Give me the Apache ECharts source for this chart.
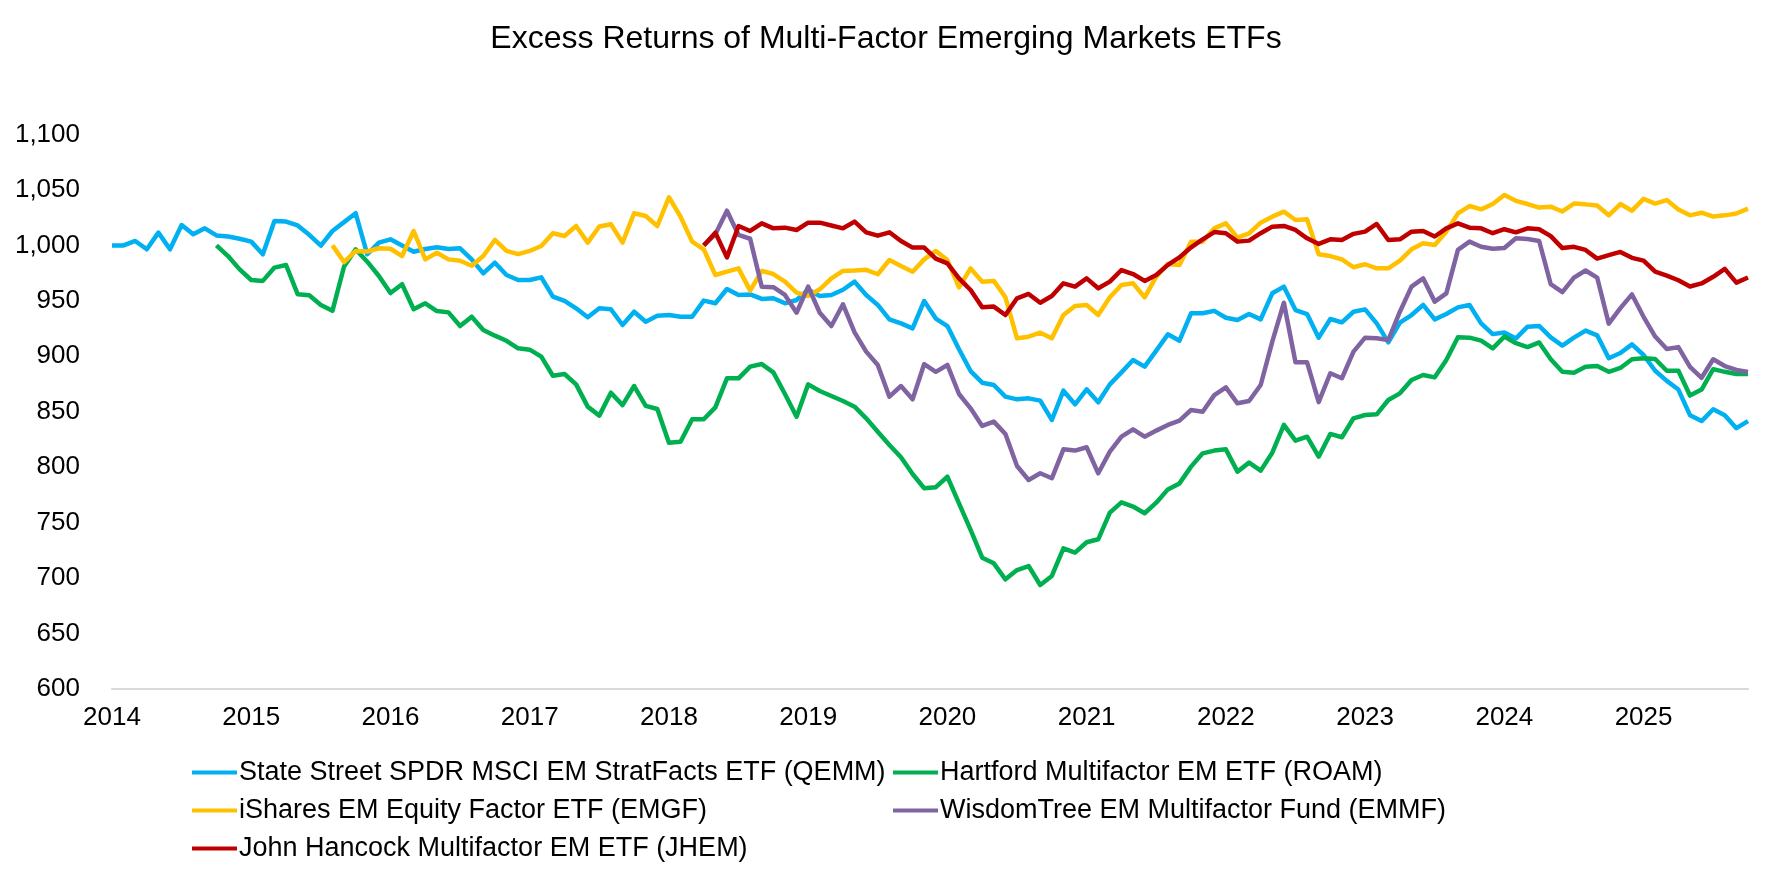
<!DOCTYPE html>
<html>
<head>
<meta charset="utf-8">
<script src="https://cdn.jsdelivr.net/npm/echarts@6/dist/echarts.min.js"></script>
<style>
html,body{margin:0;padding:0;background:#fff;}
#chart{width:1772px;height:886px;}
</style>
</head>
<body>
<div id="chart"></div>
<script>
// Monthly observations, Jan 2014 .. Oct 2025
var startYear = 2014, startMonth = 1, monthCount = 142;
var months = [];
for (var i = 0; i < monthCount; i++) {
  var y = startYear + Math.floor((startMonth - 1 + i) / 12);
  var m = ((startMonth - 1 + i) % 12) + 1;
  months.push(y + '-' + (m < 10 ? '0' + m : m));
}

var seriesNames = [
  'State Street SPDR MSCI EM StratFacts ETF (QEMM)',
  'Hartford Multifactor EM ETF (ROAM)',
  'iShares EM Equity Factor ETF (EMGF)',
  'WisdomTree EM Multifactor Fund (EMMF)',
  'John Hancock Multifactor EM ETF (JHEM)'
];

var qemm = [
  1000, 1000, 1004, 996.5, 1011.5, 996.5, 1018.4, 1010, 1015.4, 1009, 1008, 1006,
  1003.4, 992, 1022, 1021.5, 1018, 1009.5, 999.8, 1013, 1021, 1029, 992, 1002.5,
  1005.5, 1000, 994.3, 996.8, 998.3, 996.8, 997.4, 987.4, 974.8, 984.4, 973.3, 968.8,
  968.8, 971.2, 953.8, 949.9, 943.3, 935.2, 943.3, 942.4, 928.2, 940.2, 931.2, 936.6,
  937.2, 935.7, 935.7, 950.2, 947.8, 960.7, 955.3, 955.8, 951.7, 952.3, 947.8, 950.8,
  960, 954.4, 955.3, 960, 967.3, 955.3, 946.3, 933.3, 929.7, 925.2, 949.9, 934,
  927.3, 906.3, 886.7, 876.2, 874.1, 863.6, 861.2, 862.1, 860, 842.6, 869, 856.7,
  870.2, 858.5, 874.7, 885.5, 896.7, 890.7, 905.1, 919.8, 914.1, 938.8, 938.8, 941,
  934.8, 932.7, 938.1, 933.3, 956.8, 962.8, 941.7, 938.1, 916.8, 933.6, 930.6, 940.2,
  942.3, 929.7, 912.6, 930.3, 937.2, 946.3, 933.3, 938.1, 944.1, 946.3, 929.7, 920,
  921.4, 916.1, 926.7, 927.4, 917.1, 909.7, 916.8, 923.2, 918.9, 898.3, 903, 910.8,
  901.2, 887, 877.8, 870, 846.9, 841.6, 852.3, 846.9, 835.2, 841.6
];

var roam = [
  null, null, null, null, null, null, null, null, null, 1000, 990.4, 978.4,
  968.8, 968, 980, 982.3, 956, 955, 946.3, 941, 981, 996.5, 985.3, 972.4,
  957, 965, 942.4, 947.8, 940.8, 939.6, 927.3, 935.7, 923.7, 918.6, 914, 907.2,
  906, 899.7, 882.5, 884, 874.7, 854.6, 846.5, 867.2, 856, 873.2, 855.3, 852.5,
  822.1, 823, 843.2, 843.2, 854, 880.1, 880.1, 890.7, 893, 885.5, 866, 845.5,
  874.7, 868.7, 864.2, 859.7, 854.6, 844.1, 832, 820, 808.9, 793.9, 781, 782,
  791.4, 767.4, 743.4, 718.4, 713.3, 698.9, 707.3, 710.9, 693.8, 701.9, 726.9, 723,
  732.3, 735, 759, 768.3, 764.5, 758.5, 768, 780, 785.4, 800.5, 812.5, 815,
  816.1, 796, 804.1, 796.9, 813.1, 838.1, 823.9, 827.5, 809.5, 830, 827, 844.1,
  847.1, 847.7, 860.6, 866.6, 878.6, 883.1, 881, 896.7, 917.1, 916.8, 914.1, 907.2,
  917.8, 911.8, 908.3, 912.5, 897.3, 886, 885.2, 890.5, 891.2, 886, 889.5, 897.3,
  898.3, 897.6, 887, 887, 864.6, 870, 888.4, 886, 884.1, 884.1
];

var emgf = [
  null, null, null, null, null, null, null, null, null, null, null, null,
  null, null, null, null, null, null, null, 1000, 985, 995, 994.5, 997.4,
  997, 990.4, 1013, 987.4, 993.4, 987.4, 986.2, 981.7, 990.4, 1004.9, 995, 992.2,
  995, 999.5, 1010.9, 1008.5, 1017.5, 1002.5, 1017, 1019, 1002.5, 1029, 1026.5, 1017.5,
  1043.4, 1025.9, 1003.4, 996.5, 973.3, 976.3, 979.3, 959.2, 977, 974.2, 967.3, 957.4,
  954.4, 960.4, 970.3, 977, 977.3, 978, 974, 986.8, 981.4, 976.3, 987.4, 995,
  986.8, 962.2, 979.3, 967.3, 968, 953.2, 916.2, 917.7, 921.3, 916.2, 937.2, 945.4,
  946.2, 937.2, 953.2, 964.3, 965.8, 953.2, 971.8, 983.2, 982.4, 1003.4, 1003.4, 1015.4,
  1019.9, 1007, 1010.9, 1020.5, 1025.9, 1030.4, 1022.9, 1023.5, 992, 990.4, 987.4, 980.3,
  983, 979.3, 979.3, 986.2, 996.5, 1001.9, 1000.4, 1012.4, 1028.9, 1035.5, 1032.5, 1037.3,
  1045.5, 1040.2, 1037.3, 1034.1, 1034.9, 1030.6, 1037.7, 1037, 1035.9, 1027.1, 1037.3, 1031.3,
  1042, 1037.7, 1040.9, 1032.4, 1027.1, 1029.5, 1026, 1027.1, 1028.8, 1033.1
];

var emmf = [
  null, null, null, null, null, null, null, null, null, null, null, null,
  null, null, null, null, null, null, null, null, null, null, null, null,
  null, null, null, null, null, null, null, null, null, null, null, null,
  null, null, null, null, null, null, null, null, null, null, null, null,
  null, null, null, 1000, 1010, 1031.3, 1009.4, 1006, 962.8, 962.3, 955.3, 939.3,
  962.8, 939.3, 927.3, 946.9, 921.6, 904.2, 892.2, 863.6, 873.2, 861.2, 893, 886,
  892.2, 866, 853.1, 837.2, 841.1, 829.9, 801.1, 788.5, 794.5, 790, 816.1, 815,
  818, 794.5, 814, 827.5, 834.2, 827.5, 833, 838.1, 842, 851.6, 850, 865,
  872, 857.6, 859.7, 874.1, 913.2, 948.3, 894.6, 894.6, 858.7, 884.7, 880.2, 904.2,
  916.8, 916.2, 914.7, 940.2, 962.8, 970.3, 949.3, 956.8, 995.9, 1003.4, 998.8, 997,
  997.6, 1006.5, 1005.8, 1004, 965, 957.9, 971, 977.4, 971, 929.5, 943.4, 955.8,
  935.6, 917.8, 906.5, 908.3, 890.5, 880.6, 897.3, 891.2, 887.7, 885.9
];

var jhem = [
  null, null, null, null, null, null, null, null, null, null, null, null,
  null, null, null, null, null, null, null, null, null, null, null, null,
  null, null, null, null, null, null, null, null, null, null, null, null,
  null, null, null, null, null, null, null, null, null, null, null, null,
  null, null, null, 1000, 1011.5, 989.2, 1017.5, 1013, 1019.9, 1015.4, 1016, 1013.9,
  1020.5, 1020.5, 1018, 1015.4, 1021.4, 1011.8, 1008.8, 1011.8, 1004, 998, 998, 988,
  983.8, 970.3, 959.8, 944.2, 944.8, 937.2, 952.3, 956.2, 948.3, 954.4, 965.8, 962.8,
  970.3, 961.3, 967.3, 977.8, 974.2, 968, 973.3, 982.4, 989.2, 998.3, 1005.5, 1012,
  1011, 1003.4, 1004.3, 1011, 1016.9, 1017.5, 1013.9, 1006.4, 1001.3, 1005.5, 1004.9, 1010.4,
  1012.4, 1019.3, 1004.9, 1005.5, 1012.4, 1013, 1008, 1015.4, 1019.9, 1016, 1015.4, 1011,
  1014.6, 1011.8, 1015.4, 1014.6, 1008.3, 997.6, 998.7, 995.9, 988.1, 991.2, 994.1, 988.8,
  986.3, 976.4, 972.8, 968.6, 962.9, 965.7, 971.7, 978.8, 966.4, 971
];

var seriesData = [qemm, roam, emgf, emmf, jhem];
var colors = ['#00B0F0', '#00B050', '#FFC000', '#8064A2', '#C00000'];

var FONT = '"Liberation Sans", Arial, sans-serif';

var legendPos = [
  {left: 192, top: 758},
  {left: 893, top: 758},
  {left: 192, top: 796},
  {left: 893, top: 796},
  {left: 192, top: 834}
];

var legends = seriesNames.map(function (n, i) {
  return {
    data: [n],
    left: legendPos[i].left,
    top: legendPos[i].top,
    icon: 'rect',
    itemWidth: 45,
    itemHeight: 4,
    itemGap: 0,
    padding: 0,
    textStyle: {fontFamily: FONT, fontSize: 27, color: '#000', lineHeight: 29, padding: [0, 0, 0, -3]}
  };
});

var series = seriesNames.map(function (n, i) {
  return {
    name: n,
    type: 'line',
    data: seriesData[i],
    showSymbol: false,
    symbol: 'none',
    connectNulls: false,
    lineStyle: {color: colors[i], width: 4.5, join: 'round'},
    itemStyle: {color: colors[i]},
    emphasis: {disabled: true},
    animation: false
  };
});

var chart = echarts.init(document.getElementById('chart'));
chart.setOption({
  backgroundColor: '#ffffff',
  animation: false,
  title: {
    text: 'Excess Returns of Multi-Factor Emerging Markets ETFs',
    left: 'center',
    top: 18,
    textStyle: {fontFamily: FONT, fontSize: 32, fontWeight: 'normal', color: '#000'}
  },
  legend: legends,
  grid: {left: 112, right: 24, top: 134.5, bottom: 197, containLabel: false},
  xAxis: {
    type: 'category',
    data: months,
    boundaryGap: false,
    axisLine: {show: true, lineStyle: {color: '#D9D9D9', width: 2}},
    axisTick: {show: false},
    splitLine: {show: false},
    axisLabel: {
      interval: function (idx, val) { return val.slice(5) === '01'; },
      formatter: function (val) { return val.slice(0, 4); },
      fontFamily: FONT, fontSize: 26, color: '#000', margin: 16
    }
  },
  yAxis: {
    type: 'value',
    min: 600,
    max: 1100,
    interval: 50,
    axisLine: {show: false},
    axisTick: {show: false},
    splitLine: {show: false},
    axisLabel: {
      formatter: function (v) { return v.toString().replace(/\B(?=(\d{3})+(?!\d))/g, ','); },
      fontFamily: FONT, fontSize: 26, color: '#000', margin: 32
    }
  },
  series: series
});
</script>
</body>
</html>
